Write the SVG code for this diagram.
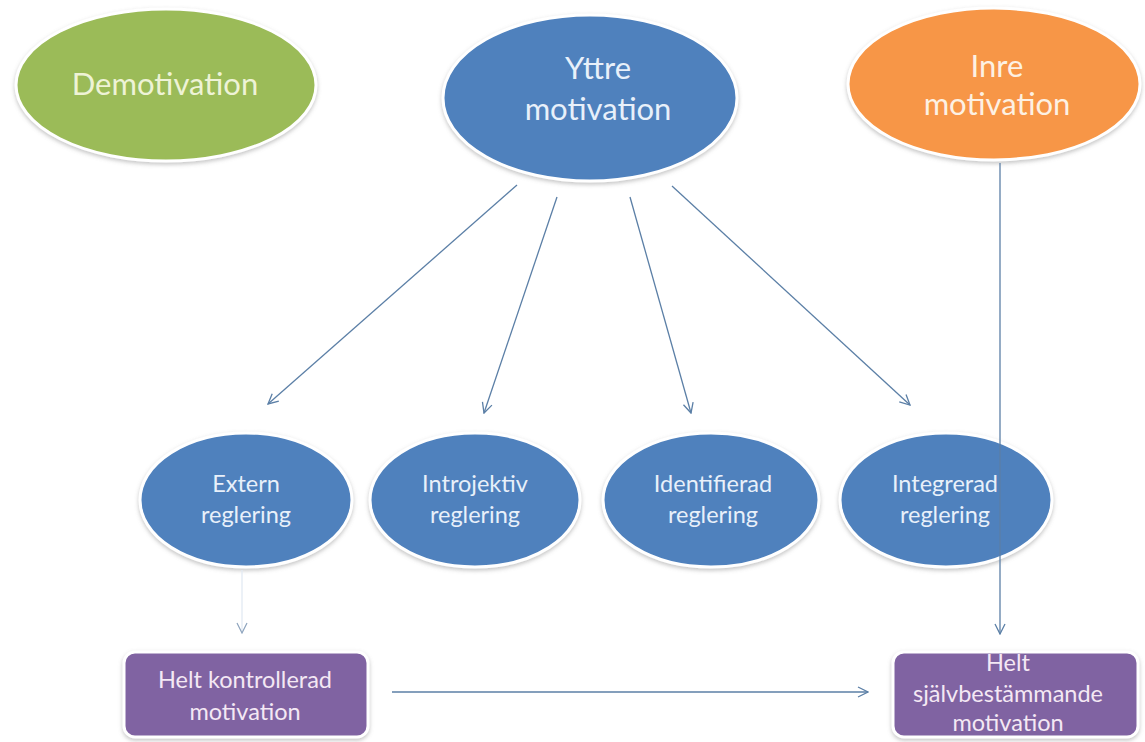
<svg xmlns="http://www.w3.org/2000/svg" width="1145" height="742" viewBox="0 0 1145 742">
  <style>
    .node { stroke: #ffffff; stroke-width: 3; filter: url(#shadow); }
    .green { fill: #9bbb59; }
    .blue { fill: #4f81bd; }
    .orange { fill: #f79646; }
    .purple { fill: #8064a2; }
    .lbl { font-family: Lato, "Open Sans", "Liberation Sans", sans-serif; text-anchor: middle; }
    .big { font-size: 31px; }
    .mid { font-size: 23.5px; }
    .box { font-size: 23.5px; }
    .conn { fill: none; stroke: #5b7fa6; stroke-width: 1.3; marker-end: url(#vee); }
  </style>
  <defs>
    <filter id="shadow" x="-10%" y="-10%" width="120%" height="130%">
      <feDropShadow dx="0" dy="2" stdDeviation="2" flood-color="#7a7a7a" flood-opacity="0.45"/>
    </filter>
    <marker id="vee" viewBox="0 0 12 12" refX="11" refY="6" markerWidth="12" markerHeight="12" markerUnits="userSpaceOnUse" orient="auto">
      <path d="M1,1 L11,6 L1,11" fill="none" stroke="#5b7fa6" stroke-width="1.3"/>
    </marker>
    <marker id="veeFaint" viewBox="0 0 12 12" refX="11" refY="6" markerWidth="12" markerHeight="12" markerUnits="userSpaceOnUse" orient="auto">
      <path d="M1,1 L11,6 L1,11" fill="none" stroke="#8ea4bd" stroke-width="1.2"/>
    </marker>
  </defs>

  <rect width="1145" height="742" fill="#ffffff"/>

  <!-- top row -->
  <g id="demotivation">
    <ellipse class="node green" cx="166" cy="85" rx="150" ry="76"/>
    <text class="lbl big" x="165" y="95" fill="#eef3d6">Demotivation</text>
  </g>
  <g id="yttre-motivation">
    <ellipse class="node blue" cx="590" cy="98" rx="147" ry="83"/>
    <text class="lbl big" fill="#e8f0fa"><tspan x="598" y="79">Yttre</tspan><tspan x="598" y="120">motivation</tspan></text>
  </g>
  <g id="inre-motivation">
    <ellipse class="node orange" cx="994" cy="84" rx="146" ry="76"/>
    <text class="lbl big" fill="#fdf1e3"><tspan x="997" y="77">Inre</tspan><tspan x="997" y="115">motivation</tspan></text>
  </g>

  <!-- regulation types -->
  <g id="extern-reglering">
    <ellipse class="node blue" cx="246" cy="500" rx="106" ry="67"/>
    <text class="lbl mid" fill="#e8f0fa"><tspan x="246" y="492">Extern</tspan><tspan x="246" y="523">reglering</tspan></text>
  </g>
  <g id="introjektiv-reglering">
    <ellipse class="node blue" cx="475" cy="500" rx="105" ry="67"/>
    <text class="lbl mid" fill="#e8f0fa"><tspan x="475" y="492">Introjektiv</tspan><tspan x="475" y="523">reglering</tspan></text>
  </g>
  <g id="identifierad-reglering">
    <ellipse class="node blue" cx="711" cy="500" rx="108" ry="67"/>
    <text class="lbl mid" fill="#e8f0fa"><tspan x="713" y="492">Identifierad</tspan><tspan x="713" y="523">reglering</tspan></text>
  </g>
  <g id="integrerad-reglering">
    <ellipse class="node blue" cx="946" cy="500" rx="106" ry="67"/>
    <text class="lbl mid" fill="#e8f0fa"><tspan x="945" y="492">Integrerad</tspan><tspan x="945" y="523">reglering</tspan></text>
  </g>

  <!-- outcome boxes -->
  <g id="helt-kontrollerad">
    <rect class="node purple" x="124" y="652" width="244" height="85" rx="11"/>
    <text class="lbl box" fill="#f4e8f4"><tspan x="245" y="688">Helt kontrollerad</tspan><tspan x="245" y="720">motivation</tspan></text>
  </g>
  <g id="helt-sjalvbestammande">
    <rect class="node purple" x="893" y="652" width="245" height="85" rx="11"/>
    <text class="lbl box" fill="#f4e8f4"><tspan x="1008" y="671">Helt</tspan><tspan x="1008" y="702">självbestämmande</tspan><tspan x="1008" y="731">motivation</tspan></text>
  </g>

  <!-- connectors -->
  <g id="connectors">
    <line class="conn" x1="517" y1="185" x2="268" y2="404"/>
    <line class="conn" x1="557" y1="197" x2="484" y2="413"/>
    <line class="conn" x1="630" y1="197" x2="691" y2="413"/>
    <line class="conn" x1="672" y1="186" x2="910" y2="405"/>
    <line class="conn" x1="1000" y1="163" x2="1000" y2="634" stroke="#5c7087"/>
    <line x1="242" y1="570" x2="242" y2="633" fill="none" stroke="#e2eaf3" stroke-width="1.3" marker-end="url(#veeFaint)"/>
    <line class="conn" x1="392" y1="692" x2="868" y2="692"/>
  </g>
</svg>
